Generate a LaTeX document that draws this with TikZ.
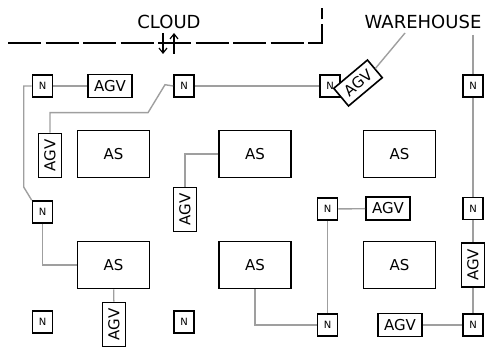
\documentclass[tikz,border=0pt]{standalone}
\usepackage{fontspec}
\setmainfont{DejaVu Sans}
\usepackage{tikz}
\usetikzlibrary{arrows.meta,positioning,calc}

\tikzset{
  box/.style={draw=black,line width=1.6pt,fill=white,inner sep=0pt},
  asbox/.style={box,minimum width=72pt,minimum height=47pt,font=\fontsize{15}{18}\selectfont},
  agvbox/.style={box,minimum width=44pt,minimum height=23pt,font=\fontsize{15}{18}\selectfont},
  nbox/.style={box,minimum width=20pt,minimum height=22pt,font=\fontsize{10}{12}\selectfont},
  link/.style={draw=gray!75,line width=1.4pt},
  cloudline/.style={draw=black,line width=1.8pt,dash pattern=on 33pt off 4.5pt},
  updown/.style={draw=black,line width=1.2pt,-{Straight Barb[length=5pt,width=8pt]}},
  title/.style={font=\fontsize{18}{21}\selectfont}
}

\begin{document}
\begin{tikzpicture}[x=1pt,y=-1pt]
\useasboundingbox (0,0) rectangle (486,347);
% Cloud border and labels
\draw[cloudline] (8,43) -- (322,43) -- (322,8);
\node[title] (cloud) at (169,21.5) {CLOUD};
\node[title] (wh) at (423,21.5) {WAREHOUSE};
\coordinate (dnT) at (163,33);
\coordinate (dnB) at (163,54);
\coordinate (upT) at (174,33);
\coordinate (upB) at (174,54);
\draw[updown] (dnT) -- (dnB);
\draw[updown] (upB) -- (upT);
\coordinate (whL) at (405,33);
\coordinate (whR) at (473,35);
% Assembly stations
\node[asbox] (asA) at (113.5,154) {AS};
\node[asbox] (asB) at (255,154) {AS};
\node[asbox] (asC) at (399.5,154) {AS};
\node[asbox] (asD) at (113.5,265) {AS};
\node[asbox] (asE) at (255,265) {AS};
\node[asbox] (asF) at (399.5,265) {AS};
% Nodes
\node[nbox] (nA) at (42.5,86) {N};
\node[nbox] (nB) at (184,86) {N};
\node[nbox] (nC) at (330,86) {N};
\node[nbox] (nD) at (473,86) {N};
\node[nbox] (nE) at (42.5,212) {N};
\node[nbox] (nF) at (327.5,209) {N};
\node[nbox] (nG) at (473,208.5) {N};
\node[nbox] (nH) at (42.5,322) {N};
\node[nbox] (nI) at (184,322) {N};
\node[nbox] (nJ) at (327.5,325) {N};
\node[nbox] (nK) at (473,325) {N};
% Vehicles
\node[agvbox] (agvA) at (110,86) {AGV};
\node[agvbox,rotate=40] (agvB) at (358,83) {AGV};
\node[agvbox,rotate=90] (agvC) at (50,155.5) {AGV};
\node[agvbox,rotate=90] (agvD) at (185,209.5) {AGV};
\node[agvbox] (agvE) at (388,208.5) {AGV};
\node[agvbox,rotate=90] (agvF) at (473,265) {AGV};
\node[agvbox,rotate=90] (agvG) at (114,324.5) {AGV};
\node[agvbox] (agvH) at (400,325) {AGV};
% Links
\foreach \a/\b in {nA/agvA, nB/nC, whR/nD, nD/nG, nG/agvF, agvF/nK, nK/agvH,
                   nF/agvE, nF/nJ, asD/agvG}
  \draw[link] (\a) -- (\b);
\draw[link] (agvB.east) -- (whL);
\draw[link] (nA.west) -- ++(-8,0) -- ++(0,101) -- (nE.north west);
\draw[link] (nE) |- (asD.west);
\draw[link] (agvC.east) -- ++(0,-20) -- ++(98,0) -- ++(17,-28) -- (nB.west);
\draw[link] (asB.west) -| (agvD.east);
\draw[link] (asE.south) |- (nJ.west);
\end{tikzpicture}
\end{document}
